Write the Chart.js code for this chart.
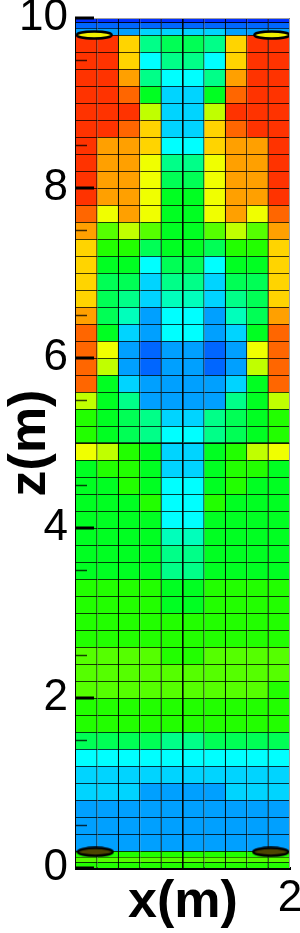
<!DOCTYPE html>
<html>
<head>
<meta charset="utf-8">
<script src="https://cdn.jsdelivr.net/npm/chart.js@4.4.1/dist/chart.umd.min.js"></script>
<style>
html,body{margin:0;padding:0;background:#fff;}
#wrap{width:300px;height:933px;}
</style>
</head>
<body>
<div id="wrap"><canvas id="fieldChart" width="300" height="933"></canvas></div>
<script>

// cell centres along x (m)
const xCentres = [0.1,0.3,0.5,0.7,0.9,1.1,1.3,1.5,1.7,1.9];

// contour level colours, lowest to highest
const levelColours = [
"#0030ff","#0066ff","#00a0ff","#00d4ff","#00ffff",
"#00ffbb","#00ff88","#00ff55","#00ff22","#22ff00",
"#55ff00","#c0ff00","#f0ff00","#ffd400","#ffa000",
"#ff6600","#ff3300"
];

// thin rows under the lid, top to bottom
const lidEdges = [10,9.95,9.88,9.8];
const lidLevels = [
[0,0,0,0,0,0,0,0,0,0],
[1,1,1,1,1,1,1,1,1,1],
[2,2,2,3,3,3,3,2,2,2]
];

// main mesh, rows of 0.2 m from 9.8 down to 0.2
const meshTop = 9.8;
const meshStep = 0.2;
const meshLevels = [
[16,16,13,6,7,7,6,13,16,16],
[16,16,13,4,6,6,4,13,16,16],
[16,16,14,6,4,4,6,14,16,16],
[16,16,15,8,3,3,8,15,16,16],
[16,16,16,11,3,3,11,16,16,16],
[16,16,15,13,3,3,13,15,16,16],
[16,14,14,13,4,4,13,14,14,16],
[16,14,14,12,6,6,12,14,14,16],
[16,14,14,12,7,7,12,14,14,16],
[16,14,14,12,8,8,12,14,14,16],
[15,12,14,12,8,8,12,14,12,15],
[14,10,11,10,8,8,10,11,10,14],
[13,9,9,7,8,8,7,9,9,13],
[13,8,8,4,7,7,4,8,8,13],
[13,7,7,3,6,6,3,7,7,13],
[13,7,6,3,5,5,3,6,7,13],
[14,7,5,2,4,4,2,5,7,14],
[15,8,3,2,4,4,2,3,8,15],
[15,12,2,1,2,2,1,2,12,15],
[15,11,2,1,2,2,1,2,11,15],
[15,8,3,2,2,2,2,3,8,15],
[11,8,6,2,2,2,2,6,8,11],
[9,8,7,6,3,3,6,7,8,9],
[9,8,7,6,4,4,6,7,8,9],
[12,11,9,8,3,3,8,9,11,12],
[8,9,9,8,3,3,8,9,9,8],
[8,8,9,8,4,4,8,9,8,8],
[8,8,8,9,4,4,9,8,8,8],
[8,8,8,8,4,4,8,8,8,8],
[8,8,8,8,5,5,8,8,8,8],
[8,8,8,8,6,6,8,8,8,8],
[8,8,8,8,6,6,8,8,8,8],
[9,9,9,9,8,8,9,9,9,9],
[9,9,9,9,8,8,9,9,9,9],
[9,9,9,9,9,9,9,9,9,9],
[9,9,9,9,9,9,9,9,9,9],
[10,10,10,10,9,9,10,10,10,10],
[10,10,10,10,10,10,10,10,10,10],
[10,10,10,10,10,10,10,10,10,9],
[9,9,9,9,9,9,9,9,9,9],
[9,9,9,9,9,9,9,9,9,9],
[7,7,7,7,6,6,7,7,7,7],
[4,4,4,4,4,4,4,4,4,4],
[3,3,3,3,3,3,3,3,3,3],
[3,3,3,2,2,2,2,3,3,3],
[2,2,2,2,2,2,2,2,2,2],
[2,2,2,2,2,2,2,2,2,2],
[2,2,2,2,2,2,2,2,2,2]
];

// thin rows on the floor, top to bottom
const floorEdges = [0.2,0.13,0.07,0];
const floorLevels = [
[9,9,9,9,9,9,9,9,9,9],
[10,10,10,10,10,10,10,10,10,10],
[9,9,9,9,9,9,9,9,9,9]
];

// elliptic markers at the corners
const lidMarkers = [{x:0.17,y:9.8},{x:1.83,y:9.8}];
const floorMarkers = [{x:0.18,y:0.19},{x:1.82,y:0.19}];

const yTicks = [0,2,4,6,8,10];

function rowSet(lo,hi,levels){
return {
type:"bar",
data:xCentres.map(x=>({x:x,y:[lo,hi]})),
backgroundColor:levels.map(l=>levelColours[l]),
borderColor:"#000",
borderWidth:{top:1,right:1.2,bottom:0,left:0},
borderSkipped:false,
grouped:false,
barPercentage:1,
categoryPercentage:1,
order:2
};
}

function ellipseImage(fill,w,h){
const c = document.createElement("canvas");
c.width = w;
c.height = h;
const g = c.getContext("2d");
g.beginPath();
g.ellipse(w/2,h/2,w/2-1.5,h/2-1.5,0,0,Math.PI*2);
g.fillStyle = fill;
g.fill();
g.lineWidth = 2.5;
g.strokeStyle = "#000";
g.stroke();
return c;
}

let datasets = [];

lidLevels.forEach((row,i)=>{
datasets.push(rowSet(lidEdges[i+1],lidEdges[i],row));
});

meshLevels.forEach((row,i)=>{
const hi = meshTop - i*meshStep;
datasets.push(rowSet(hi-meshStep,hi,row));
});

floorLevels.forEach((row,i)=>{
datasets.push(rowSet(floorEdges[i+1],floorEdges[i],row));
});

datasets.push({
type:"scatter",
data:lidMarkers,
pointStyle:ellipseImage("#f2f200",38,10),
order:0
});

datasets.push({
type:"scatter",
data:floorMarkers,
pointStyle:ellipseImage("#4d4500",38,11),
order:0
});

// thick mesh lines and inward ticks
const meshDecor = {
id:"meshDecor",
afterDatasetsDraw(chart){
const {ctx, chartArea:a, scales} = chart;
const px = scales.x.getPixelForValue(1);
const py = scales.y.getPixelForValue(5);
ctx.save();
ctx.strokeStyle = "rgba(0,0,0,0.6)";
ctx.lineWidth = 2;
ctx.beginPath();
ctx.moveTo(px,a.top);
ctx.lineTo(px,a.bottom);
ctx.moveTo(a.left,py);
ctx.lineTo(a.right,py);
ctx.stroke();
ctx.strokeStyle = "#a0a0a0";
ctx.lineWidth = 1;
ctx.beginPath();
ctx.moveTo(a.left,a.top+0.5);
ctx.lineTo(a.right-0.5,a.top+0.5);
ctx.lineTo(a.right-0.5,a.bottom);
ctx.stroke();
ctx.restore();
},
afterDraw(chart){
const {ctx, chartArea:a, scales} = chart;
ctx.save();
ctx.strokeStyle = "rgba(0,0,0,0.75)";
ctx.lineWidth = 1.5;
for(let k=0;k<10;k++){
const yy = scales.y.getPixelForValue(k+0.5);
ctx.beginPath();
ctx.moveTo(a.left,yy);
ctx.lineTo(a.left+11,yy);
ctx.stroke();
}
ctx.strokeStyle = "#000";
ctx.lineWidth = 3;
yTicks.forEach(v=>{
const yy = scales.y.getPixelForValue(v);
ctx.beginPath();
ctx.moveTo(a.left-1,yy);
ctx.lineTo(a.left+18,yy);
ctx.stroke();
});
ctx.restore();
}
};

const chart = new Chart(document.getElementById("fieldChart"),{
type:"bar",
data:{datasets:datasets},
options:{
responsive:false,
animation:false,
layout:{padding:{top:18,right:10,left:0,bottom:0}},
plugins:{
legend:{display:false},
tooltip:{enabled:false}
},
scales:{
x:{
type:"linear",
min:0,
max:2,
offset:false,
z:1,
grid:{display:false,drawTicks:false},
border:{display:true,color:"#000",width:3},
ticks:{
stepSize:2,
autoSkip:false,
maxRotation:0,
padding:4,
color:"#000",
font:{family:"Liberation Sans",size:44},
callback:v=>v===2?"2":""
},
title:{
display:true,
text:"x(m)",
color:"#000",
font:{family:"Liberation Sans",size:52,weight:"bold",lineHeight:1},
padding:{top:0,bottom:4}
},
afterFit(s){
s.height = 65;
s.paddingLeft = 0;
s.paddingRight = 0;
}
},
y:{
type:"linear",
min:0,
max:10,
z:1,
grid:{display:false,drawTicks:false},
border:{display:true,color:"#000",width:3},
ticks:{
stepSize:2,
padding:8,
color:"#000",
font:{family:"Liberation Sans",size:44}
},
title:{
display:true,
text:"z(m)",
color:"#000",
font:{family:"Liberation Sans",size:52,weight:"bold",lineHeight:1},
padding:{top:5,bottom:0}
},
afterFit(s){
s.width = 76;
s.paddingTop = 0;
s.paddingBottom = 0;
}
}
}
},
plugins:[meshDecor]
});

</script>
</body>
</html>
